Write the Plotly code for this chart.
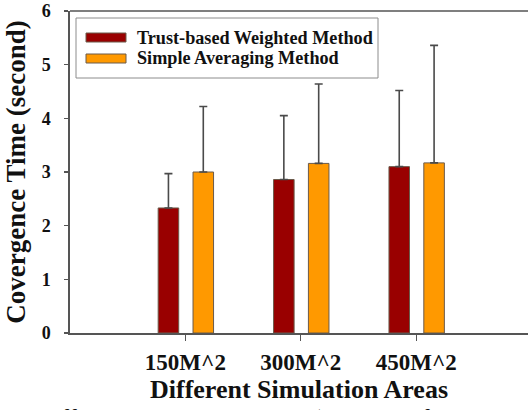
import plotly.graph_objects as go

# Convergence time per simulation area, mean and upper deviation
areas = ["150M^2", "300M^2", "450M^2"]
trust_mean = [2.33, 2.86, 3.10]
trust_err = [0.64, 1.19, 1.42]
simple_mean = [3.00, 3.16, 3.17]
simple_err = [1.22, 1.48, 2.19]
series_names = ["Trust-based Weighted Method", "Simple Averaging Method"]
y_ticks = [0, 1, 2, 3, 4, 5, 6]

RED = "#990000"
ORANGE = "#FF9900"
SERIF = "Liberation Serif, Times New Roman, serif"

W, H = 528, 410
L, R, T, B = 70, 0, 11, 77
PW, PH = W - L - R, H - T - B
UNIT = 115.4  # pixels per category step


def px(x):
    return (x - L) / PW


def py(y):
    return 1 - (y - T) / PH


fig = go.Figure()
for name, mean, err, color, off in [
    (series_names[0], trust_mean, trust_err, RED, -0.236),
    (series_names[1], simple_mean, simple_err, ORANGE, 0.066),
]:
    fig.add_trace(go.Bar(
        x=areas, y=mean, name=name, width=0.178, offset=off,
        marker=dict(color=color, line=dict(color="#6b5a4a", width=1)),
        error_y=dict(type="data", array=err, arrayminus=[0] * len(err),
                     symmetric=False, color="#4a4a4a", thickness=1.6, width=4),
        showlegend=False,
    ))

shapes = [
    # open right side of the frame
    dict(type="line", xref="paper", yref="paper", x0=1, x1=1, y0=0.006, y1=0.994,
         line=dict(color="white", width=4), layer="above"),
    # top frame line
    dict(type="line", xref="paper", yref="paper", x0=0, x1=1, y0=1, y1=1,
         line=dict(color="#555", width=1.6), layer="above"),
    # legend box
    dict(type="rect", xref="paper", yref="paper",
         x0=px(76), x1=px(378), y0=py(78), y1=py(18),
         line=dict(color="#8c8c8c", width=1), fillcolor="white", layer="above"),
]
annotations = []
for (y0, y1), color, name in [((33, 42), RED, series_names[0]),
                              ((54, 63), ORANGE, series_names[1])]:
    shapes.append(dict(type="rect", xref="paper", yref="paper",
                       x0=px(86), x1=px(126), y0=py(y1), y1=py(y0),
                       line=dict(color="#6b5a4a", width=1), fillcolor=color, layer="above"))
    annotations.append(dict(xref="paper", yref="paper", x=px(135), y=py((y0 + y1) / 2),
                            xanchor="left", yanchor="middle", showarrow=False, text=name,
                            font=dict(family=SERIF, size=18.2, color="#111", weight="bold")))

# figure caption, partly below the page edge
annotations.append(dict(xref="paper", yref="paper", x=px(-17), y=0, xanchor="left",
                        yanchor="top", yshift=-70, showarrow=False,
                        text="with Different Simulation Areas (Number of Nodes=100)",
                        font=dict(family=SERIF, size=25, color="#111")))

fig.update_layout(
    template="none",
    width=W, height=H,
    font=dict(family=SERIF, color="#111"),
    margin=dict(l=L, r=R, t=T, b=B, pad=0, autoexpand=False),
    paper_bgcolor="white", plot_bgcolor="white",
    barmode="overlay", showlegend=False,
    shapes=shapes, annotations=annotations,
    xaxis=dict(
        type="category", range=[-1, -1 + PW / UNIT], automargin=False,
        showline=True, linecolor="#555", linewidth=1.6, mirror=False,
        ticks="outside", ticklen=6, tickwidth=1.4, tickcolor="#555",
        tickfont=dict(family=SERIF, size=23, color="#111", weight="bold"),
        ticklabelstandoff=2,
        showgrid=False, zeroline=False,
        title=dict(text="Different Simulation Areas", standoff=2,
                   font=dict(family=SERIF, size=26, color="#111", weight="bold")),
    ),
    yaxis=dict(
        range=[0, 6], tickvals=y_ticks, automargin=False,
        showline=True, linecolor="#555", linewidth=1.6, mirror=False,
        ticks="outside", ticklen=4, tickwidth=1.4, tickcolor="#555",
        tickfont=dict(family=SERIF, size=18, color="#111", weight="bold"),
        ticklabelstandoff=10,
        showgrid=False, zeroline=False,
        title=dict(text="Covergence Time (second)", standoff=8,
                   font=dict(family=SERIF, size=27, color="#111", weight="bold")),
    ),
)

fig.write_html("out.html", config=dict(staticPlot=True, displayModeBar=False))
